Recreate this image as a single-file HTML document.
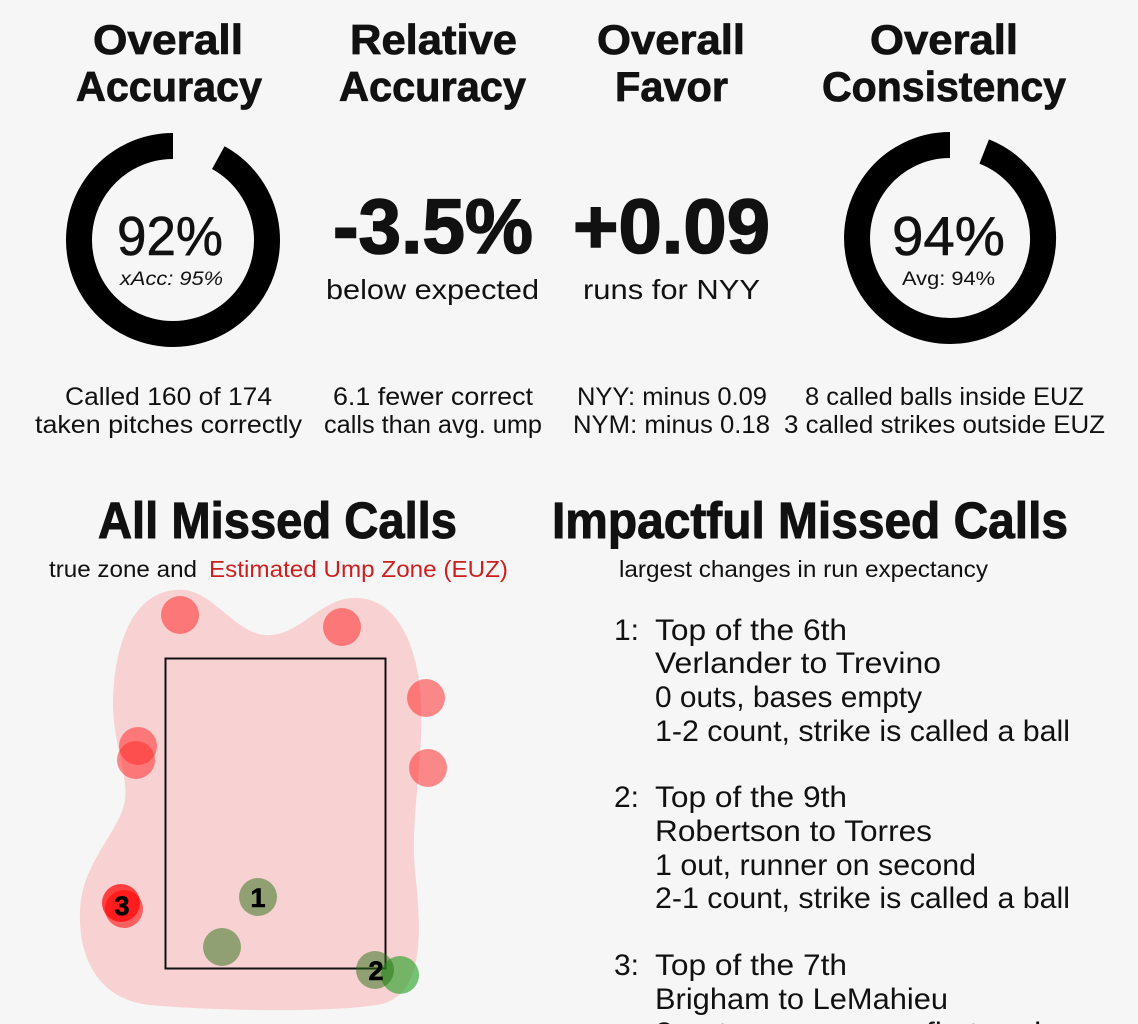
<!DOCTYPE html>
<html>
<head>
<meta charset="utf-8">
<style>
  html, body { margin:0; padding:0; background:#f6f6f6; }
  svg { display:block; }
  text { font-family: "Liberation Sans", "DejaVu Sans", sans-serif; fill:#111; }
  .h { font-weight:bold; font-size:42px; stroke:#111; stroke-width:0.8px; }
  .big { font-weight:bold; font-size:77px; stroke:#111; stroke-width:1.6px; }
  .pct { font-size:55px; stroke:#111; stroke-width:0.6px; }
  .sub { font-size:19px; }
  .m { font-size:28px; }
  .s { font-size:25px; }
  .t { font-weight:bold; font-size:51px; stroke:#111; stroke-width:1px; }
  .st { font-size:23px; }
  .l { font-size:30px; }
  .n { font-size:27px; font-weight:bold; fill:#000; stroke:#000; stroke-width:0.6px; }
</style>
</head>
<body>
<svg width="1138" height="1024" viewBox="0 0 1138 1024" xmlns="http://www.w3.org/2000/svg">
  <rect x="0" y="0" width="1138" height="1024" fill="#f6f6f6"/>

  <!-- Headers -->
  <text class="h" x="93" y="54" textLength="150" lengthAdjust="spacingAndGlyphs">Overall</text>
  <text class="h" x="76" y="101" textLength="186" lengthAdjust="spacingAndGlyphs">Accuracy</text>
  <text class="h" x="350" y="54" textLength="167" lengthAdjust="spacingAndGlyphs">Relative</text>
  <text class="h" x="339" y="101" textLength="187" lengthAdjust="spacingAndGlyphs">Accuracy</text>
  <text class="h" x="597" y="54" textLength="148" lengthAdjust="spacingAndGlyphs">Overall</text>
  <text class="h" x="615" y="101" textLength="113" lengthAdjust="spacingAndGlyphs">Favor</text>
  <text class="h" x="870" y="54" textLength="148" lengthAdjust="spacingAndGlyphs">Overall</text>
  <text class="h" x="822" y="101" textLength="244" lengthAdjust="spacingAndGlyphs">Consistency</text>

  <!-- Donut 1 -->
  <path d="M 218.29 157.63 A 94 94 0 1 1 173 146" fill="none" stroke="#000" stroke-width="26"/>
  <text class="pct" x="117" y="255" textLength="106" lengthAdjust="spacingAndGlyphs">92%</text>
  <text class="sub" x="120" y="285" font-style="italic" textLength="103" lengthAdjust="spacingAndGlyphs">xAcc: 95%</text>

  <!-- Donut 2 -->
  <path d="M 984.2 151.5 A 93 93 0 1 1 950 145" fill="none" stroke="#000" stroke-width="26"/>
  <text class="pct" x="892" y="255" textLength="113" lengthAdjust="spacingAndGlyphs">94%</text>
  <text class="sub" x="902" y="285" textLength="93" lengthAdjust="spacingAndGlyphs">Avg: 94%</text>

  <!-- Big numbers -->
  <text class="big" x="333" y="253" textLength="200" lengthAdjust="spacingAndGlyphs">-3.5%</text>
  <text class="m" x="326" y="299" textLength="213" lengthAdjust="spacingAndGlyphs">below expected</text>
  <text class="big" x="573" y="253" textLength="197" lengthAdjust="spacingAndGlyphs">+0.09</text>
  <text class="m" x="583" y="299" textLength="177" lengthAdjust="spacingAndGlyphs">runs for NYY</text>

  <!-- Stats -->
  <text class="s" x="65" y="405" textLength="207" lengthAdjust="spacingAndGlyphs">Called 160 of 174</text>
  <text class="s" x="35" y="433" textLength="267" lengthAdjust="spacingAndGlyphs">taken pitches correctly</text>
  <text class="s" x="333" y="405" textLength="200" lengthAdjust="spacingAndGlyphs">6.1 fewer correct</text>
  <text class="s" x="324" y="433" textLength="218" lengthAdjust="spacingAndGlyphs">calls than avg. ump</text>
  <text class="s" x="577" y="405" textLength="190" lengthAdjust="spacingAndGlyphs">NYY: minus 0.09</text>
  <text class="s" x="573" y="433" textLength="197" lengthAdjust="spacingAndGlyphs">NYM: minus 0.18</text>
  <text class="s" x="805" y="405" textLength="279" lengthAdjust="spacingAndGlyphs">8 called balls inside EUZ</text>
  <text class="s" x="784" y="433" textLength="321" lengthAdjust="spacingAndGlyphs">3 called strikes outside EUZ</text>

  <!-- Section titles -->
  <text class="t" x="98" y="538" textLength="359" lengthAdjust="spacingAndGlyphs">All Missed Calls</text>
  <text class="t" x="552" y="538" textLength="516" lengthAdjust="spacingAndGlyphs">Impactful Missed Calls</text>
  <text class="st" x="49" y="577" textLength="148" lengthAdjust="spacingAndGlyphs">true zone and</text>
  <text class="st" x="209" y="577" textLength="299" lengthAdjust="spacingAndGlyphs" style="fill:#cc1f1f">Estimated Ump Zone (EUZ)</text>
  <text class="st" x="619" y="577" textLength="369" lengthAdjust="spacingAndGlyphs">largest changes in run expectancy</text>

  <!-- Strike zone plot -->
  <path d="M 175 590
           C 210 585, 232 632, 265 635
           C 300 638, 320 596, 358 598
           C 400 600, 418 650, 421 700
           C 424 760, 410 820, 415 870
           C 420 920, 428 992, 382 1004
           C 330 1014, 200 1010, 150 1005
           C 100 1000, 78 960, 80 910
           C 82 862, 120 832, 125 800
           C 128 770, 112 742, 113 700
           C 114 650, 130 594, 175 590 Z" fill="#f8d2d2"/>
  <rect x="165.5" y="658.5" width="220" height="310" fill="none" stroke="#111" stroke-width="2"/>

  <!-- red missed calls -->
  <circle cx="180" cy="615" r="19" fill="rgba(255,45,45,0.55)"/>
  <circle cx="342" cy="627" r="19" fill="rgba(255,45,45,0.55)"/>
  <circle cx="426" cy="698" r="19" fill="rgba(255,45,45,0.55)"/>
  <circle cx="428" cy="768" r="19" fill="rgba(255,45,45,0.55)"/>
  <circle cx="138" cy="746" r="19" fill="rgba(255,45,45,0.55)"/>
  <circle cx="136" cy="760" r="19" fill="rgba(255,45,45,0.55)"/>
  <circle cx="121" cy="903" r="19" fill="rgba(255,0,0,0.7)"/>
  <circle cx="124" cy="909" r="19" fill="rgba(255,0,0,0.55)"/>
  <!-- green -->
  <circle cx="258" cy="897" r="19" fill="rgba(40,110,20,0.5)"/>
  <circle cx="222" cy="947" r="19" fill="rgba(40,110,20,0.5)"/>
  <circle cx="400" cy="975" r="19" fill="rgba(30,160,30,0.6)"/>
  <circle cx="375" cy="970" r="19" fill="rgba(40,110,20,0.5)"/>

  <text class="n" x="258" y="907" text-anchor="middle">1</text>
  <text class="n" x="376" y="980" text-anchor="middle">2</text>
  <text class="n" x="122" y="915" text-anchor="middle">3</text>

  <!-- Impactful list -->
  <text class="l" x="614" y="640">1:</text>
  <text class="l" x="655" y="640" textLength="192" lengthAdjust="spacingAndGlyphs">Top of the 6th</text>
  <text class="l" x="655" y="673" textLength="286" lengthAdjust="spacingAndGlyphs">Verlander to Trevino</text>
  <text class="l" x="655" y="707" textLength="267" lengthAdjust="spacingAndGlyphs">0 outs, bases empty</text>
  <text class="l" x="655" y="741" textLength="415" lengthAdjust="spacingAndGlyphs">1-2 count, strike is called a ball</text>

  <text class="l" x="614" y="807">2:</text>
  <text class="l" x="655" y="807" textLength="192" lengthAdjust="spacingAndGlyphs">Top of the 9th</text>
  <text class="l" x="655" y="841" textLength="277" lengthAdjust="spacingAndGlyphs">Robertson to Torres</text>
  <text class="l" x="655" y="875" textLength="321" lengthAdjust="spacingAndGlyphs">1 out, runner on second</text>
  <text class="l" x="655" y="908" textLength="415" lengthAdjust="spacingAndGlyphs">2-1 count, strike is called a ball</text>

  <text class="l" x="614" y="975">3:</text>
  <text class="l" x="655" y="975" textLength="192" lengthAdjust="spacingAndGlyphs">Top of the 7th</text>
  <text class="l" x="655" y="1009" textLength="293" lengthAdjust="spacingAndGlyphs">Brigham to LeMahieu</text>
  <text class="l" x="655" y="1043" textLength="500" lengthAdjust="spacingAndGlyphs">2 outs, runners on first and second</text>
</svg>
</body>
</html>
